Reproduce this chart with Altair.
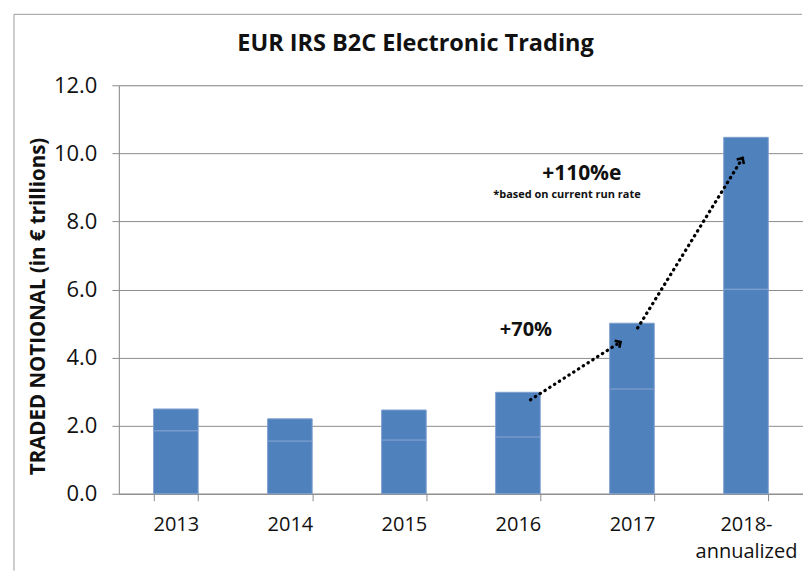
import altair as alt
import pandas as pd

years = ["2013", "2014", "2015", "2016", "2017", "2018-annualized"]
totals = [2.49, 2.20, 2.46, 2.98, 5.01, 10.47]
lower = [1.85, 1.55, 1.58, 1.67, 3.08, 6.01]

# growth arrows (position along the year axis: 0..6, and value)
arrow1_x = [3.61, 4.40]
arrow1_y = [2.76, 4.46]
arrow2_x = [4.55, 5.47]
arrow2_y = [4.87, 9.86]
arrow_angles = [57, 32]

notes = ["+70%", "+110%e", "*based on current run rate"]
notes_x = [3.57, 4.06, 3.93]
notes_y = [4.81, 9.39, 8.77]
notes_size = [20, 21, 11]

title_text = "EUR IRS B2C Electronic Trading"

FONT = "Open Sans"
BLUE = "#4F81BD"
GRID = "#8C8C8C"

rows = []
for yr, lo, tot in zip(years, lower, totals):
    rows.append({"year": yr, "start": 0.0, "end": lo})
    rows.append({"year": yr, "start": lo, "end": tot})
bar_df = pd.DataFrame(rows)

bars = alt.Chart(bar_df).mark_bar(
    color=BLUE, stroke="#7FA0CF", strokeWidth=1
).encode(
    x=alt.X(
        "year:N",
        sort=years,
        scale=alt.Scale(paddingInner=0.609, paddingOuter=0.3045),
        axis=alt.Axis(
            title=None,
            labelAngle=0,
            labelFont=FONT,
            labelFontSize=20,
            labelColor="#111111",
            labelPadding=14,
            labelLineHeight=27,
            labelExpr="datum.value == '2018-annualized' ? ['2018-', 'annualized'] : datum.label",
            tickBand="extent",
            tickSize=7,
            tickColor=GRID,
            domainColor=GRID,
            grid=False,
        ),
    ),
    y=alt.Y(
        "start:Q",
        scale=alt.Scale(domain=[0, 12], nice=False),
        axis=alt.Axis(
            values=[0, 2, 4, 6, 8, 10, 12],
            format=".1f",
            title="TRADED NOTIONAL (in € trillions)",
            titleFont=FONT,
            titleFontSize=20.5,
            titleFontWeight="bold",
            titleColor="#111111",
            titleX=-80,
            titleY=221,
            titleAlign="center",
            titleBaseline="middle",
            labelFont=FONT,
            labelFontSize=22,
            labelColor="#111111",
            labelPadding=15,
            tickSize=7,
            tickColor=GRID,
            domainColor=GRID,
            gridColor=GRID,
            gridWidth=1,
        ),
    ),
    y2="end:Q",
)

xq = alt.Scale(domain=[0, 6], nice=False)
yq = alt.Scale(domain=[0, 12], nice=False)

arrows_df = pd.DataFrame({
    "px": arrow1_x + arrow2_x,
    "val": arrow1_y + arrow2_y,
    "arrow": ["a1", "a1", "a2", "a2"],
})
arrow_lines = alt.Chart(arrows_df).mark_line(
    color="#000000", strokeWidth=3.2, strokeDash=[0.5, 5.2], strokeCap="round"
).encode(
    x=alt.X("px:Q", scale=xq, axis=None),
    y=alt.Y("val:Q", scale=yq),
    detail="arrow:N",
)

heads_df = pd.DataFrame({
    "px": [arrow1_x[-1], arrow2_x[-1]],
    "val": [arrow1_y[-1], arrow2_y[-1]],
    "ang": arrow_angles,
})
arrow_heads = alt.Chart(heads_df).mark_point(
    shape="M -0.9 0.9 L 0 0 L 0.9 0.9",
    filled=False, color="#000000", strokeWidth=2.6, size=90, opacity=1,
).encode(
    x=alt.X("px:Q", scale=xq, axis=None),
    y=alt.Y("val:Q", scale=yq),
    angle=alt.Angle("ang:Q", scale=None),
)

notes_df = pd.DataFrame({"px": notes_x, "val": notes_y, "txt": notes, "fs": notes_size})
note_text = alt.Chart(notes_df).mark_text(
    font=FONT, fontWeight="bold", color="#111111", align="center", baseline="middle"
).encode(
    x=alt.X("px:Q", scale=xq, axis=None),
    y=alt.Y("val:Q", scale=yq),
    text="txt:N",
    size=alt.Size("fs:Q", scale=None),
)

title_mark = alt.Chart(pd.DataFrame({"t": [title_text]})).mark_text(
    font=FONT, fontSize=23.5, fontWeight="bold", color="#111111",
    align="center", baseline="middle",
).encode(x=alt.value(297), y=alt.value(-41), text="t:N")

border_left = alt.Chart(pd.DataFrame({"k": [0]})).mark_rule(color="#9A9A9A", strokeWidth=1).encode(
    x=alt.value(-105), y=alt.value(-71), y2=alt.value(486)
)
border_top = alt.Chart(pd.DataFrame({"k": [0]})).mark_rule(color="#9A9A9A", strokeWidth=1).encode(
    x=alt.value(-105), x2=alt.value(684), y=alt.value(-71)
)

chart = alt.layer(
    bars, arrow_lines, arrow_heads, note_text, title_mark, border_left, border_top
).resolve_scale(x="independent").properties(
    width=685,
    height=409,
    padding={"left": 13, "top": 13, "right": 0, "bottom": 0},
).configure_view(stroke=None).configure(background="white")

chart.save("out.html", embed_options={"renderer": "svg", "actions": False})
